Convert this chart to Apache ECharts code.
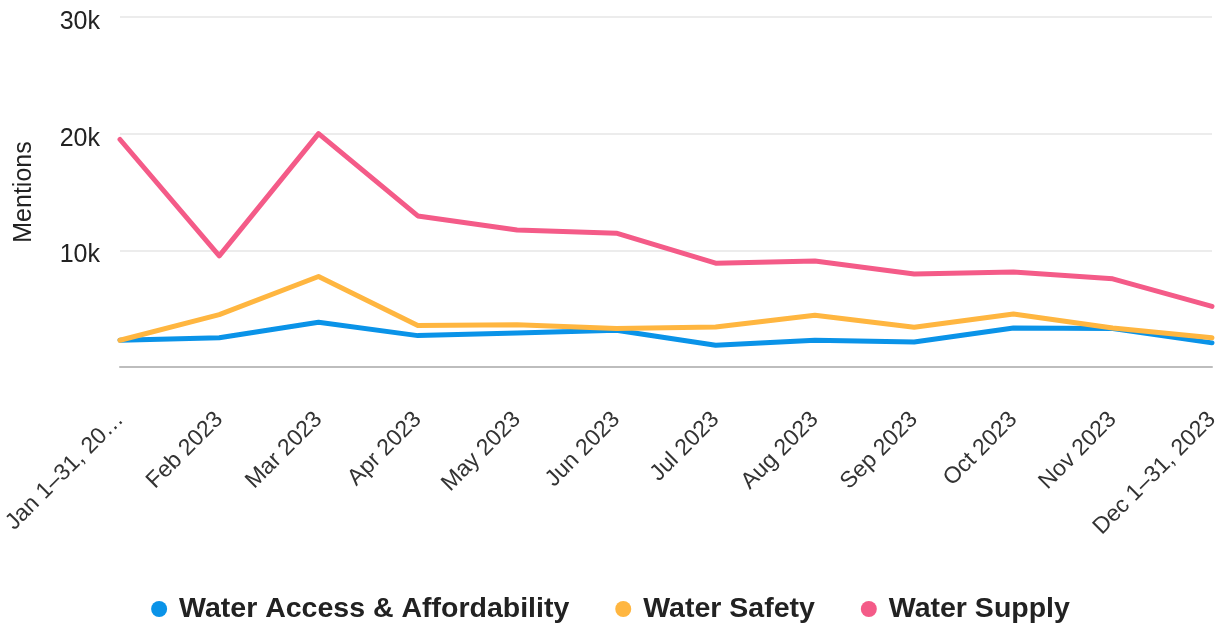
<!DOCTYPE html>
<html>
<head>
<meta charset="utf-8">
<script src="https://cdn.jsdelivr.net/npm/echarts@6/dist/echarts.min.js"></script>
<style>
html,body{margin:0;padding:0;background:#fff;}
#chart{width:1221px;height:627px;}
</style>
</head>
<body>
<div id="chart"></div>
<script>
const categories = ['Jan 1–31, 2023','Feb 2023','Mar 2023','Apr 2023','May 2023','Jun 2023','Jul 2023','Aug 2023','Sep 2023','Oct 2023','Nov 2023','Dec 1–31, 2023'];
const xTickLabels = ['Jan 1–31, 20…','Feb 2023','Mar 2023','Apr 2023','May 2023','Jun 2023','Jul 2023','Aug 2023','Sep 2023','Oct 2023','Nov 2023','Dec 1–31, 2023'];
const yTickLabels = ['0','10k','20k','30k'];
const seriesNames = ['Water Access & Affordability','Water Safety','Water Supply'];
const waterAccess = [2290, 2500, 3830, 2690, 2920, 3150, 1860, 2290, 2150, 3350, 3300, 2070];
const waterSafety = [2290, 4490, 7760, 3550, 3630, 3290, 3430, 4430, 3400, 4550, 3350, 2500];
const waterSupply = [19500, 9530, 20000, 12950, 11750, 11470, 8900, 9080, 7970, 8140, 7560, 5200];
const colors = ['#0a93e8','#ffb640','#f45b88'];

const FONT = '"Liberation Sans", Arial, Helvetica, sans-serif';
const chart = echarts.init(document.getElementById('chart'), null, {renderer:'canvas'});
const mk = (name, data, color) => ({
  name, type:'line', data, showSymbol:false, symbol:'circle',
  lineStyle:{width:5, color, cap:'round', join:'round'},
  itemStyle:{color}, emphasis:{disabled:true}, animation:false
});
chart.setOption({
  animation:false,
  color: colors,
  grid:{left:120, right:9, top:17, bottom:260, containLabel:false, outerBoundsMode:'none'},
  legend:{
    data: seriesNames,
    left:'center', top:589,
    icon:'circle', itemWidth:30, itemHeight:16, itemGap:46,
    textStyle:{fontFamily:FONT, fontWeight:'bold', fontSize:28.5, color:'#222', lineHeight:30}
  },
  xAxis:{
    type:'category', data:categories, boundaryGap:false,
    axisLine:{show:true, lineStyle:{color:'#bdbdbd', width:2}},
    axisTick:{show:false},
    axisLabel:{
      rotate:45, margin:49, interval:0, fontFamily:FONT, fontSize:23, color:'#333',
      formatter:(v, i) => xTickLabels[i]
    },
    splitLine:{show:false}
  },
  yAxis:{
    type:'value', min:0, max:30000, interval:10000,
    name:'Mentions', nameLocation:'middle', nameGap:83, nameRotate:90,
    nameTextStyle:{fontFamily:FONT, fontSize:25, color:'#222'},
    axisLine:{show:false}, axisTick:{show:false},
    axisLabel:{showMinLabel:false, margin:20, color:'#222',
      formatter:(v) => '{a|' + yTickLabels[Math.round(v/10000)] + '}',
      rich:{a:{fontFamily:FONT, fontSize:25, color:'#222', padding:[10,0,0,0]}}},
    splitLine:{lineStyle:{color:'#ececec', width:2}}
  },
  series:[
    mk(seriesNames[0], waterAccess, colors[0]),
    mk(seriesNames[1], waterSafety, colors[1]),
    mk(seriesNames[2], waterSupply, colors[2])
  ]
});
</script>
</body>
</html>
